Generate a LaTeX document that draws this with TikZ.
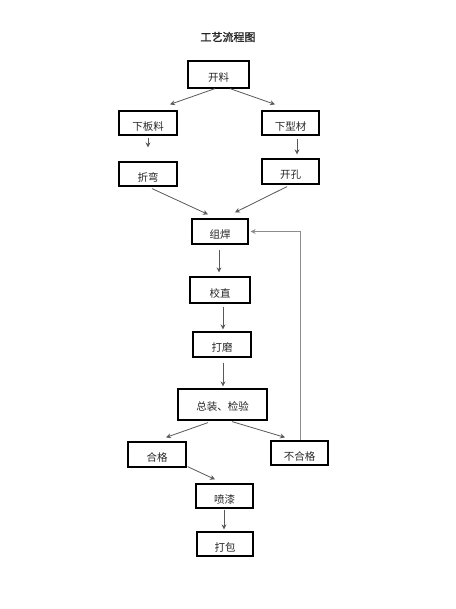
\documentclass[tikz,border=0pt]{standalone}
\usepackage{fontspec}
\newfontfamily\cjk{Noto Sans CJK SC}
\newfontfamily\cjktitle[FakeBold=1.5]{Noto Sans CJK SC}
\usetikzlibrary{calc,arrows.meta}
\begin{document}
\begin{tikzpicture}[x=1pt,y=-1pt,
  box/.style={draw=black,line width=1.2pt,fill=white,inner sep=0pt,
    font=\cjk\fontsize{10.5}{12}\selectfont,text=black!85,
    text height=14.4pt,text depth=0pt},
  arr/.style={draw=black!65,line width=0.8pt,-{Stealth[length=5pt,width=5pt]}},
  fb/.style={draw=black!45,line width=0.8pt,-{Stealth[length=5pt,width=5pt]}}]
\useasboundingbox (0,0) rectangle (455,609);
\fill[white] (0,0) rectangle (455,609);
\node[font=\cjktitle\fontsize{11}{13}\selectfont,text=black!85] (title) at (228,37) {工艺流程图};
\node[box,minimum width=61pt,minimum height=27pt] (kl) at (218.5,74.5) {开料};
\node[box,minimum width=58pt,minimum height=24pt] (xbl) at (148,123) {下板料};
\node[box,minimum width=57pt,minimum height=24pt] (xxc) at (290.5,123) {下型材};
\node[box,minimum width=58pt,minimum height=24pt] (zw) at (148,174) {折弯};
\node[box,minimum width=57pt,minimum height=25pt] (kk) at (290.5,171.5) {开孔};
\node[box,minimum width=56pt,minimum height=25pt] (hj) at (220,231.5) {组焊};
\node[box,minimum width=60pt,minimum height=26pt] (jz) at (220,290) {校直};
\node[box,minimum width=58pt,minimum height=25pt] (dm) at (222,344.5) {打磨};
\node[box,minimum width=89pt,minimum height=31pt,text height=11.4pt] (zz) at (222.5,404.5) {总装、检验};
\node[box,minimum width=58pt,minimum height=25pt] (hg) at (157,454.5) {合格};
\node[box,minimum width=57pt,minimum height=24pt] (bhg) at (299.5,453) {不合格};
\node[box,minimum width=57pt,minimum height=24pt] (pq) at (224.5,496) {喷漆};
\node[box,minimum width=56pt,minimum height=24pt] (db) at (225,544) {打包};
% connectors
\draw[arr] ($(kl.south)+(-3.5,0)$) -- ($(xbl.north)+(22,-6)$);
\draw[arr] ($(kl.south)+(11.5,0)$) -- ($(xxc.north)+(-15.5,-6)$);
\draw[arr] ($(xbl.south)+(0,2)$) -- ($(zw.north)+(0,-14)$);
\draw[arr] ($(xxc.south)+(6.5,3)$) -- ($(kk.north)+(6.5,-4)$);
\draw[arr] ($(zw.south)+(4,2)$) -- ($(hj.north)+(-12,-4)$);
\draw[arr] ($(kk.south)+(-3.5,2)$) -- ($(hj.north)+(15,-6)$);
\draw[arr] ($(hj.south)+(-1,5)$) -- ($(jz.north)+(-1,-4)$);
\draw[arr] ($(jz.south)+(3,3)$) -- ($(dm.north)+(1,-2)$);
\draw[arr] ($(dm.south)+(1,5)$) -- ($(zz.north)+(0.5,-2)$);
\draw[arr] ($(zz.south)+(-14.5,2)$) -- ($(hg.north)+(9,-4)$);
\draw[arr] ($(zz.south)+(9.5,1)$) -- ($(bhg.north)+(-14.5,-3)$);
\draw[arr] ($(hg.south east)+(1,-1)$) -- ($(pq.north)+(-9.5,-4)$);
\draw[arr] ($(pq.south)+(-0.5,1)$) -- ($(db.north)+(-1,-2)$);
\draw[fb] ($(bhg.north)+(0.5,0)$) |- ($(hj.east)+(2,0)$);
\end{tikzpicture}
\end{document}
